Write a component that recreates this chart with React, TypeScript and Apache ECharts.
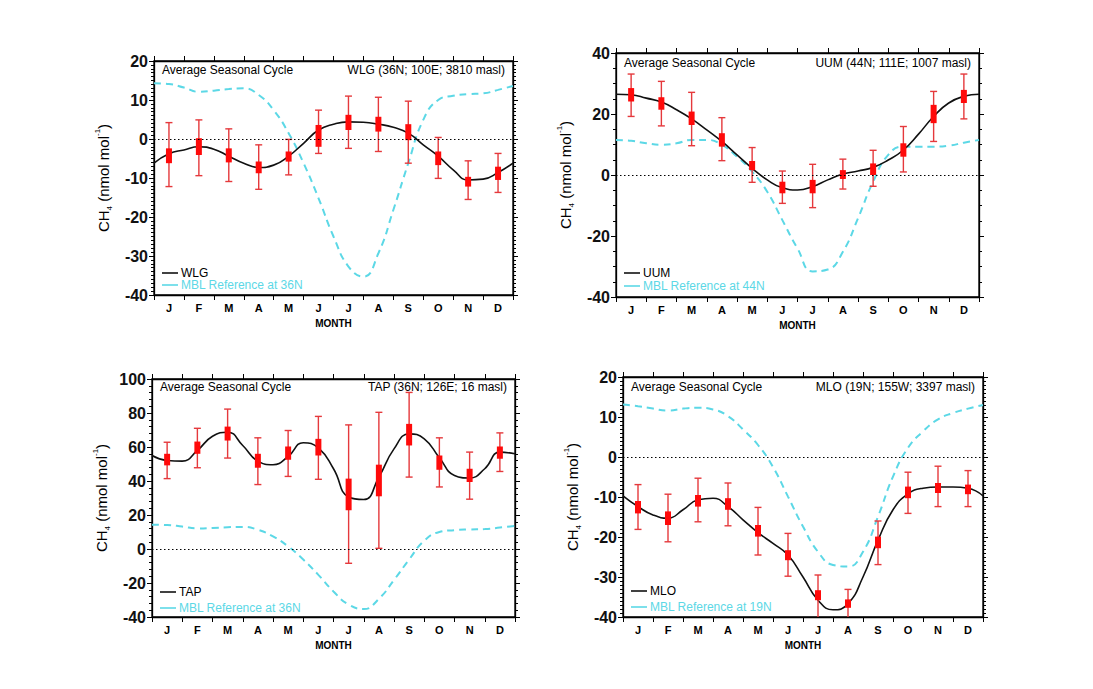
import React, { useEffect, useRef } from 'react';
import * as echarts from 'echarts';

// ---------- data ----------
const MONTH_NAMES = ['Jan', 'Feb', 'Mar', 'Apr', 'May', 'Jun', 'Jul', 'Aug', 'Sep', 'Oct', 'Nov', 'Dec'];
const MONTH_LABELS = ['J', 'F', 'M', 'A', 'M', 'J', 'J', 'A', 'S', 'O', 'N', 'D'];
const MONTH_X = [0.5, 1.5, 2.5, 3.5, 4.5, 5.5, 6.5, 7.5, 8.5, 9.5, 10.5, 11.5];
const CURVE_X = [0, 0.5, 1, 1.5, 2, 2.5, 3, 3.5, 4, 4.5, 5, 5.5, 6, 6.5, 7, 7.5, 8, 8.5, 9, 9.5, 10, 10.5, 11, 11.5, 12];

// WLG
const WLG_CURVE = [-6.2, -3.8, -2.8, -2.0, -2.6, -4.4, -6.2, -7.3, -6.7, -4.4, -1.1, 2.3, 3.8, 4.4, 4.3, 3.8, 3.0, 1.5, -1.5, -4.4, -7.9, -10.5, -10.3, -8.6, -6.2];
const MBL_36N = [14.3, 14.1, 13.2, 12.1, 12.4, 12.8, 13.0, 11.3, 7.4, 1.5, -6.2, -15.2, -25.0, -32.7, -35.3, -29.3, -18.2, -6.2, 4.9, 10.0, 11.1, 11.5, 11.7, 12.6, 13.6];
const WLG_LO = [-12.2, -9.4, -10.9, -12.9, -9.2, -3.7, -2.4, -3.2, -6.2, -10.1, -15.5, -13.7];
const WLG_HI = [4.2, 4.9, 2.6, -1.5, -0.1, 7.4, 11.0, 10.7, 9.7, 0.4, -5.6, -3.7];
const WLG_BOX_LO = [-6.2, -4.1, -6.0, -8.8, -5.8, -2.0, 2.3, 1.9, -0.3, -6.7, -12.2, -10.5];
const WLG_BOX_HI = [-2.4, 0.2, -2.4, -5.8, -3.2, 3.6, 6.2, 5.7, 3.8, -3.2, -9.7, -7.1];

// UUM
const UUM_CURVE = [26.5, 26.3, 25.2, 23.9, 21.4, 18.4, 14.8, 11.0, 6.6, 2.2, -1.6, -4.2, -4.9, -3.8, -1.6, 0.3, 1.3, 2.5, 4.9, 8.2, 13.4, 19.2, 23.6, 25.8, 26.5];
const MBL_44N = [11.5, 11.2, 10.4, 9.9, 10.4, 11.5, 11.5, 9.9, 6.0, 1.1, -5.5, -14.8, -24.1, -31.6, -31.0, -25.2, -14.2, -2.2, 6.6, 9.3, 9.3, 9.3, 9.6, 10.6, 11.5];
const UUM_LO = [19.2, 16.1, 9.6, 4.7, -2.4, -9.3, -10.7, -4.6, -3.7, 1.0, 11.0, 18.4];
const UUM_HI = [33.1, 30.7, 27.1, 18.8, 9.0, 1.3, 3.5, 5.2, 8.1, 15.9, 27.4, 33.1];
const UUM_BOX_LO = [24.1, 21.4, 16.4, 9.3, 1.6, -6.0, -6.0, -1.3, 0.0, 6.0, 17.0, 23.6];
const UUM_BOX_HI = [28.5, 25.5, 20.8, 13.7, 4.6, -2.2, -1.6, 1.6, 3.8, 10.4, 23.0, 27.9];

// TAP
const TAP_CURVE = [55.0, 52.1, 51.7, 58.0, 66.3, 68.7, 60.9, 51.7, 49.6, 54.4, 62.5, 59.5, 47.2, 30.6, 29.1, 42.3, 58.9, 67.7, 64.8, 53.7, 43.3, 41.8, 47.2, 57.0, 56.0];
const TAP_LO = [41.4, 47.8, 53.5, 37.9, 42.7, 41.0, -8.4, 0.4, 42.3, 36.5, 29.3, 45.6];
const TAP_HI = [62.8, 71.0, 82.3, 65.4, 69.7, 78.0, 73.0, 80.4, 92.1, 65.4, 57.0, 68.3];
const TAP_BOX_LO = [49.2, 56.0, 63.8, 47.8, 52.5, 55.0, 22.8, 31.0, 60.9, 46.6, 39.4, 53.1];
const TAP_BOX_HI = [56.0, 63.2, 72.0, 56.0, 60.3, 64.8, 41.4, 49.6, 73.6, 55.0, 47.2, 60.3];

// MLO
const MLO_CURVE = [-9.7, -12.4, -14.5, -15.3, -13.2, -10.7, -10.3, -12.4, -15.7, -18.9, -21.6, -24.5, -30.0, -35.8, -38.2, -36.7, -30.0, -20.8, -13.2, -9.2, -7.8, -7.5, -7.5, -7.8, -9.7];
const MBL_19N = [13.1, 12.7, 12.1, 11.6, 12.1, 12.3, 11.9, 10.2, 6.9, 3.0, -2.5, -9.9, -17.4, -23.7, -27.0, -27.4, -23.7, -14.9, -4.9, 2.3, 6.4, 9.4, 11.0, 12.1, 13.0];
const MLO_LO = [-18.1, -21.2, -16.2, -17.2, -24.5, -29.8, -41.0, -41.0, -26.9, -14.1, -12.4, -12.4];
const MLO_HI = [-6.9, -9.3, -5.3, -6.5, -12.6, -19.1, -29.5, -33.1, -16.0, -3.8, -2.3, -3.4];
const MLO_BOX_LO = [-14.1, -17.0, -12.4, -13.2, -19.9, -25.8, -35.8, -37.7, -22.8, -10.3, -9.0, -9.3];
const MLO_BOX_HI = [-11.0, -13.6, -9.5, -10.3, -17.0, -23.3, -33.3, -35.6, -19.9, -7.4, -6.5, -6.9];

// ---------- layout / style ----------
const FONT = '"Liberation Sans", Arial, Helvetica, sans-serif';
const CYAN = '#5cd8e6';
const BLACK = '#111111';

const PANELS = [
  {
    station: 'WLG', title: 'WLG (36N; 100E; 3810 masl)', mblName: 'MBL Reference at 36N',
    curve: WLG_CURVE, mbl: MBL_36N, lo: WLG_LO, hi: WLG_HI, bLo: WLG_BOX_LO, bHi: WLG_BOX_HI,
    yMin: -40, yMax: 20, yInterval: 10, minorSplit: 10,
    left: 154, top: 61, width: 359, height: 234, titleY: 70, legY: [273, 285],
  },
  {
    station: 'UUM', title: 'UUM (44N; 111E; 1007 masl)', mblName: 'MBL Reference at 44N',
    curve: UUM_CURVE, mbl: MBL_44N, lo: UUM_LO, hi: UUM_HI, bLo: UUM_BOX_LO, bHi: UUM_BOX_HI,
    yMin: -40, yMax: 40, yInterval: 20, minorSplit: 4,
    left: 616, top: 53, width: 363, height: 244, titleY: 63, legY: [273, 286],
  },
  {
    station: 'TAP', title: 'TAP (36N; 126E; 16 masl)', mblName: 'MBL Reference at 36N',
    curve: TAP_CURVE, mbl: MBL_36N, lo: TAP_LO, hi: TAP_HI, bLo: TAP_BOX_LO, bHi: TAP_BOX_HI,
    yMin: -40, yMax: 100, yInterval: 20, minorSplit: 5,
    left: 152, top: 379, width: 363, height: 238, titleY: 387, legY: [592, 608],
  },
  {
    station: 'MLO', title: 'MLO (19N; 155W; 3397 masl)', mblName: 'MBL Reference at 19N',
    curve: MLO_CURVE, mbl: MBL_19N, lo: MLO_LO, hi: MLO_HI, bLo: MLO_BOX_LO, bHi: MLO_BOX_HI,
    yMin: -40, yMax: 20, yInterval: 10, minorSplit: 10,
    left: 623, top: 377, width: 360, height: 240, titleY: 387, legY: [591, 607],
  },
];

function buildOption() {
  const grids: any[] = [];
  const xAxes: any[] = [];
  const yAxes: any[] = [];
  const series: any[] = [];
  const graphics: any[] = [];

  const tick = { show: true, inside: false, length: 5, lineStyle: { color: '#000', width: 1 } };
  const axisLine = { show: true, onZero: false, lineStyle: { color: '#000', width: 1.3 } };

  PANELS.forEach((p, gi) => {
    grids.push({
      left: p.left, top: p.top, width: p.width, height: p.height,
      show: true, borderColor: '#000', borderWidth: 1.3, containLabel: false, outerBoundsMode: 'none',
    });

    // bottom ticks (month boundaries)
    xAxes.push({
      type: 'value', gridIndex: gi, position: 'bottom', min: 0, max: 12, interval: 1,
      axisLine, axisTick: tick, axisLabel: { show: false }, splitLine: { show: false },
    });
    // top ticks
    xAxes.push({
      type: 'value', gridIndex: gi, position: 'top', min: 0, max: 12, interval: 1,
      axisLine, axisTick: tick, axisLabel: { show: false }, splitLine: { show: false },
    });
    // month labels
    xAxes.push({
      type: 'category', gridIndex: gi, position: 'bottom', data: MONTH_NAMES, boundaryGap: true,
      axisLine: { show: false }, axisTick: { show: false }, splitLine: { show: false },
      axisLabel: {
        show: true, interval: 0, formatter: (_v: any, idx: number) => MONTH_LABELS[idx],
        fontSize: 11, fontWeight: 'bold', color: '#000', margin: 7, fontFamily: FONT,
      },
      name: 'MONTH', nameLocation: 'middle', nameGap: 23, nameMoveOverlap: false,
      nameTextStyle: { fontSize: 10, fontWeight: 'bold', color: '#000', fontFamily: FONT },
    });

    yAxes.push({
      type: 'value', gridIndex: gi, position: 'left', min: p.yMin, max: p.yMax, interval: p.yInterval,
      axisLine, axisTick: tick,
      minorTick: { show: true, splitNumber: p.minorSplit, length: 3, lineStyle: { color: '#000', width: 1 } },
      axisLabel: { show: true, fontSize: 16, fontWeight: 'bold', color: '#111', margin: 6, fontFamily: FONT },
      splitLine: { show: false }, minorSplitLine: { show: false },
      name: '{a|CH}{s|4}{a| (nmol mol}{u|-1}{a|)}',
      nameLocation: 'middle', nameGap: 41, nameMoveOverlap: false,
      nameTextStyle: {
        color: '#000', fontFamily: FONT,
        rich: {
          a: { fontSize: 15, color: '#000', fontFamily: FONT, lineHeight: 20 },
          s: { fontSize: 8, color: '#000', fontFamily: FONT, lineHeight: 8, verticalAlign: 'bottom' },
          u: { fontSize: 8, color: '#000', fontFamily: FONT, lineHeight: 8, verticalAlign: 'top' },
        },
      },
    });
    yAxes.push({
      type: 'value', gridIndex: gi, position: 'right', min: p.yMin, max: p.yMax, interval: p.yInterval,
      axisLine, axisTick: tick,
      minorTick: { show: true, splitNumber: p.minorSplit, length: 3, lineStyle: { color: '#000', width: 1 } },
      axisLabel: { show: false }, splitLine: { show: false }, minorSplitLine: { show: false },
    });

    const xi = gi * 3;
    const yi = gi * 2;

    series.push({
      name: p.mblName, type: 'line', xAxisIndex: xi, yAxisIndex: yi, z: 2,
      data: CURVE_X.map((x, k) => [x, p.mbl[k]]),
      smooth: 0.5, symbol: 'none', clip: true,
      lineStyle: { color: CYAN, width: 2, type: [7, 5] },
    });
    series.push({
      name: p.station, type: 'line', xAxisIndex: xi, yAxisIndex: yi, z: 3,
      data: CURVE_X.map((x, k) => [x, p.curve[k]]),
      smooth: 0.5, symbol: 'none', clip: true,
      lineStyle: { color: BLACK, width: 1.6 },
      markLine: {
        silent: true, symbol: ['none', 'none'], label: { show: false },
        lineStyle: { color: '#000', type: [1.5, 2.5], width: 1 },
        data: [{ yAxis: 0 }],
      },
    });
    series.push({
      name: p.station + ' monthly', type: 'custom', xAxisIndex: xi, yAxisIndex: yi, z: 4, clip: true,
      encode: { x: 0, y: [1, 2, 3, 4] },
      data: MONTH_X.map((x, k) => [x, p.lo[k], p.hi[k], p.bLo[k], p.bHi[k]]),
      renderItem: (_params: any, api: any) => {
        const x = api.value(0);
        const a = api.coord([x, api.value(1)]);
        const b = api.coord([x, api.value(2)]);
        const c = api.coord([x, api.value(3)]);
        const d = api.coord([x, api.value(4)]);
        const cap = 3.5;
        const ws = { stroke: '#e5393c', lineWidth: 1.4 };
        return {
          type: 'group',
          children: [
            { type: 'line', shape: { x1: a[0], y1: a[1], x2: b[0], y2: b[1] }, style: ws },
            { type: 'line', shape: { x1: a[0] - cap, y1: a[1], x2: a[0] + cap, y2: a[1] }, style: ws },
            { type: 'line', shape: { x1: b[0] - cap, y1: b[1], x2: b[0] + cap, y2: b[1] }, style: ws },
            { type: 'rect', shape: { x: d[0] - 3, y: d[1], width: 6, height: c[1] - d[1] }, style: { fill: '#ff0a0a' } },
          ],
        };
      },
    });

    const lx = p.left + 8;
    const rx = p.left + p.width - 8;
    graphics.push(
      { type: 'text', x: lx, y: p.titleY, z: 10, style: { text: 'Average Seasonal Cycle', fontSize: 12, fontFamily: FONT, fill: '#000', textAlign: 'left', textVerticalAlign: 'middle', align: 'left', verticalAlign: 'middle' } },
      { type: 'text', x: rx, y: p.titleY, z: 10, style: { text: p.title, fontSize: 12, fontFamily: FONT, fill: '#000', textAlign: 'right', textVerticalAlign: 'middle', align: 'right', verticalAlign: 'middle' } },
      { type: 'line', z: 10, shape: { x1: lx, y1: p.legY[0], x2: lx + 16, y2: p.legY[0] }, style: { stroke: BLACK, lineWidth: 1.6 } },
      { type: 'text', x: lx + 19, y: p.legY[0], z: 10, style: { text: p.station, fontSize: 12, fontFamily: FONT, fill: '#000', textAlign: 'left', textVerticalAlign: 'middle', align: 'left', verticalAlign: 'middle' } },
      { type: 'line', z: 10, shape: { x1: lx, y1: p.legY[1], x2: lx + 16, y2: p.legY[1] }, style: { stroke: CYAN, lineWidth: 1.6 } },
      { type: 'text', x: lx + 19, y: p.legY[1], z: 10, style: { text: p.mblName, fontSize: 12, fontFamily: FONT, fill: CYAN, textAlign: 'left', textVerticalAlign: 'middle', align: 'left', verticalAlign: 'middle' } },
    );
  });

  return {
    animation: false,
    backgroundColor: '#ffffff',
    textStyle: { fontFamily: FONT },
    grid: grids,
    xAxis: xAxes,
    yAxis: yAxes,
    series,
    graphic: graphics,
  };
}

export default function App() {
  const ref = useRef<HTMLDivElement>(null);
  useEffect(() => {
    document.body.style.margin = '0';
    if (!ref.current) return;
    const chart = echarts.init(ref.current, undefined, { renderer: 'svg' });
    chart.setOption(buildOption() as any);
    return () => chart.dispose();
  }, []);
  return <div ref={ref} style={{ width: 1093, height: 689, background: '#fff' }} />;
}
